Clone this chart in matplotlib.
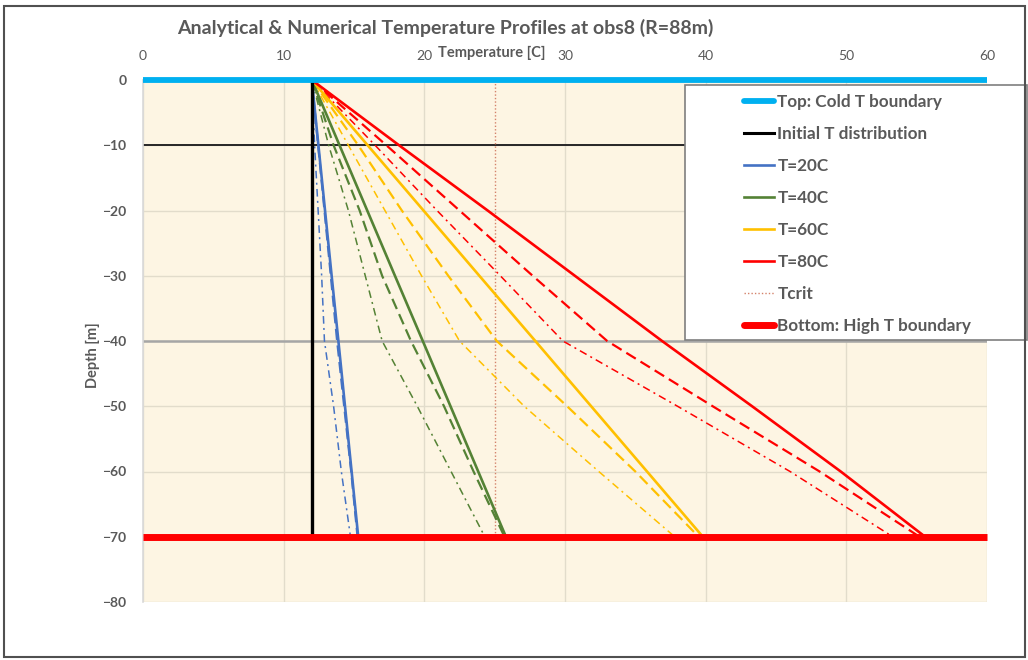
import matplotlib
matplotlib.use("Agg")
import matplotlib.pyplot as plt
from matplotlib.patches import Rectangle
from matplotlib.lines import Line2D

# Depth levels [m] and temperatures [C] at each level
depth = [0, -10, -20, -30, -40, -50, -60, -70]

t20 = [12, 12.47, 12.94, 13.41, 13.89, 14.36, 14.83, 15.3]
t20_dash = [12, 12.45, 12.9, 13.35, 13.8, 14.3, 14.8, 15.25]
t20_dashdot = [12, 12.2, 12.45, 12.7, 12.9, 13.55, 14.1, 14.75]

t40 = [12, 13.97, 15.94, 17.91, 19.89, 21.86, 23.83, 25.8]
t40_dash = [12, 13.55, 15.4, 17.0, 19.05, 21.4, 23.5, 25.7]
t40_dashdot = [12, 13.2, 14.6, 15.8, 17.0, 19.5, 21.9, 24.3]

t60 = [12, 15.97, 19.94, 23.91, 27.89, 31.86, 35.83, 39.8]
t60_dash = [12, 15.3, 18.4, 21.7, 25.15, 30.15, 35.0, 39.5]
t60_dashdot = [12, 14.6, 17.2, 19.8, 22.5, 27.1, 32.4, 37.8]

t80 = [12, 18.2, 24.5, 30.7, 36.9, 43.3, 49.6, 55.6]
t80_dash = [12, 17.3, 22.5, 27.7, 33.0, 40.5, 48.1, 55.2]
t80_dashdot = [12, 16.5, 20.9, 25.4, 29.85, 38.0, 46.0, 53.3]

t_init = 12
t_crit = 25
top_depth = 0
bottom_depth = -70
layer_depths = [-10, -40]
x_ticks = [0, 10, 20, 30, 40, 50, 60]
y_ticks = [0, -10, -20, -30, -40, -50, -60, -70, -80]

title = "Analytical & Numerical Temperature Profiles at obs8 (R=88m)"

GRAY_TXT = "#595959"
BLUE = "#4472C4"
GREEN = "#548235"
YELLOW = "#FFC000"
RED = "#FF0000"
CYAN = "#00B0F0"

plt.rcParams["font.family"] = ["Lato", "DejaVu Sans"]

W, H = 1028, 660
fig = plt.figure(figsize=(W / 100, H / 100), dpi=100)
fig.patch.set_facecolor("white")

ax = fig.add_axes([143 / W, 1 - 602 / H, (987 - 143) / W, (602 - 80) / H])
ax.set_facecolor("#FDF5E3")
ax.set_xlim(0, 60)
ax.set_ylim(-80, 0)

ax.xaxis.tick_top()
ax.xaxis.set_label_position("top")
ax.set_xticks(x_ticks)
ax.set_yticks(y_ticks)
ax.tick_params(axis="x", length=0, pad=13, labelsize=10, labelcolor=GRAY_TXT)
ax.tick_params(axis="y", length=0, pad=12, labelsize=10, labelcolor=GRAY_TXT)
for lab in ax.get_yticklabels():
    lab.set_fontweight("bold")

ax.grid(True, color="#E2DCCB", lw=1.0, zorder=0)
ax.set_axisbelow(True)
for side in ["top", "right", "bottom"]:
    ax.spines[side].set_visible(False)
ax.spines["left"].set_color("#D9D9D9")
ax.spines["left"].set_linewidth(1.2)

ax.set_xlabel("Temperature [C]", fontsize=10.5, fontweight="bold", color=GRAY_TXT)
ax.xaxis.set_label_coords((492 - 143) / 844, 1 + (80 - 57) / 522)
ax.set_ylabel("Depth [m]", fontsize=10.5, fontweight="bold", color=GRAY_TXT)
ax.yaxis.set_label_coords((100 - 143) / 844, 1 - (355 - 80) / 522)

fig.text(445 / W, 1 - 28 / H, title, ha="center", va="center",
         fontsize=14, fontweight="bold", color=GRAY_TXT)

# layer boundaries
ax.axhline(layer_depths[0], color="#262626", lw=1.4, zorder=1)
ax.axhline(layer_depths[1], color="#A6A6A6", lw=1.8, zorder=1)

# critical temperature
ax.plot([t_crit, t_crit], [top_depth, bottom_depth], color="#D4826A",
        lw=1.0, ls=(0, (1, 1.5)), zorder=2)

# profiles
dash = (0, (5, 2.5))
dashdot = (0, (5, 2.8, 1.3, 2.8))
series = [
    (t20, t20_dash, t20_dashdot, BLUE),
    (t40, t40_dash, t40_dashdot, GREEN),
    (t60, t60_dash, t60_dashdot, YELLOW),
    (t80, t80_dash, t80_dashdot, RED),
]
for solid, dsh, dd, col in series:
    ax.plot(dd, depth, color=col, lw=1.1, ls=dashdot, zorder=3)
    ax.plot(dsh, depth, color=col, lw=1.6, ls=dash, zorder=3)
    ax.plot(solid, depth, color=col, lw=1.9, zorder=4)

# initial temperature
ax.plot([t_init, t_init], [top_depth, bottom_depth], color="black",
        lw=2.4, zorder=5, solid_capstyle="butt")

# boundaries
ax.plot([0, 60], [top_depth, top_depth], color=CYAN, lw=4.2, zorder=6,
        clip_on=False, solid_capstyle="butt")
ax.plot([0, 60], [bottom_depth, bottom_depth], color=RED, lw=5.0, zorder=6,
        clip_on=False, solid_capstyle="butt")

# legend
handles = [
    Line2D([], [], color=CYAN, lw=4.2, solid_capstyle="round"),
    Line2D([], [], color="black", lw=2.2),
    Line2D([], [], color=BLUE, lw=1.9),
    Line2D([], [], color=GREEN, lw=1.9),
    Line2D([], [], color=YELLOW, lw=1.9),
    Line2D([], [], color=RED, lw=1.9),
    Line2D([], [], color="#D4826A", lw=1.0, ls=(0, (1, 1.5))),
    Line2D([], [], color=RED, lw=5.0, solid_capstyle="round"),
]
labels = ["Top: Cold T boundary", "Initial T distribution", "T=20C", "T=40C",
          "T=60C", "T=80C", "Tcrit", "Bottom: High T boundary"]

frame = Rectangle((685 / W, 1 - 340 / H), (1027 - 685) / W, (340 - 85) / H,
                  transform=fig.transFigure, facecolor="white",
                  edgecolor="#7F7F7F", lw=1.2, zorder=20)
fig.patches.append(frame)

leg = fig.legend(handles, labels, loc="upper left",
                 bbox_to_anchor=(732 / W, 1 - 82 / H),
                 bbox_transform=fig.transFigure, frameon=False,
                 prop={"family": ["Lato", "DejaVu Sans"], "weight": "bold", "size": 12.3},
                 handlelength=1.75, handletextpad=0.2, labelspacing=0.94,
                 borderpad=0.2)
leg.set_zorder(21)
for t in leg.get_texts():
    t.set_color(GRAY_TXT)

# outer frame
outer = Rectangle((4 / W, 1 - 657 / H), (1025 - 4) / W, (657 - 6) / H,
                  transform=fig.transFigure, facecolor="none",
                  edgecolor="#505050", lw=1.5, zorder=30)
fig.patches.append(outer)

fig.savefig("out.png", dpi=100, facecolor="white")
